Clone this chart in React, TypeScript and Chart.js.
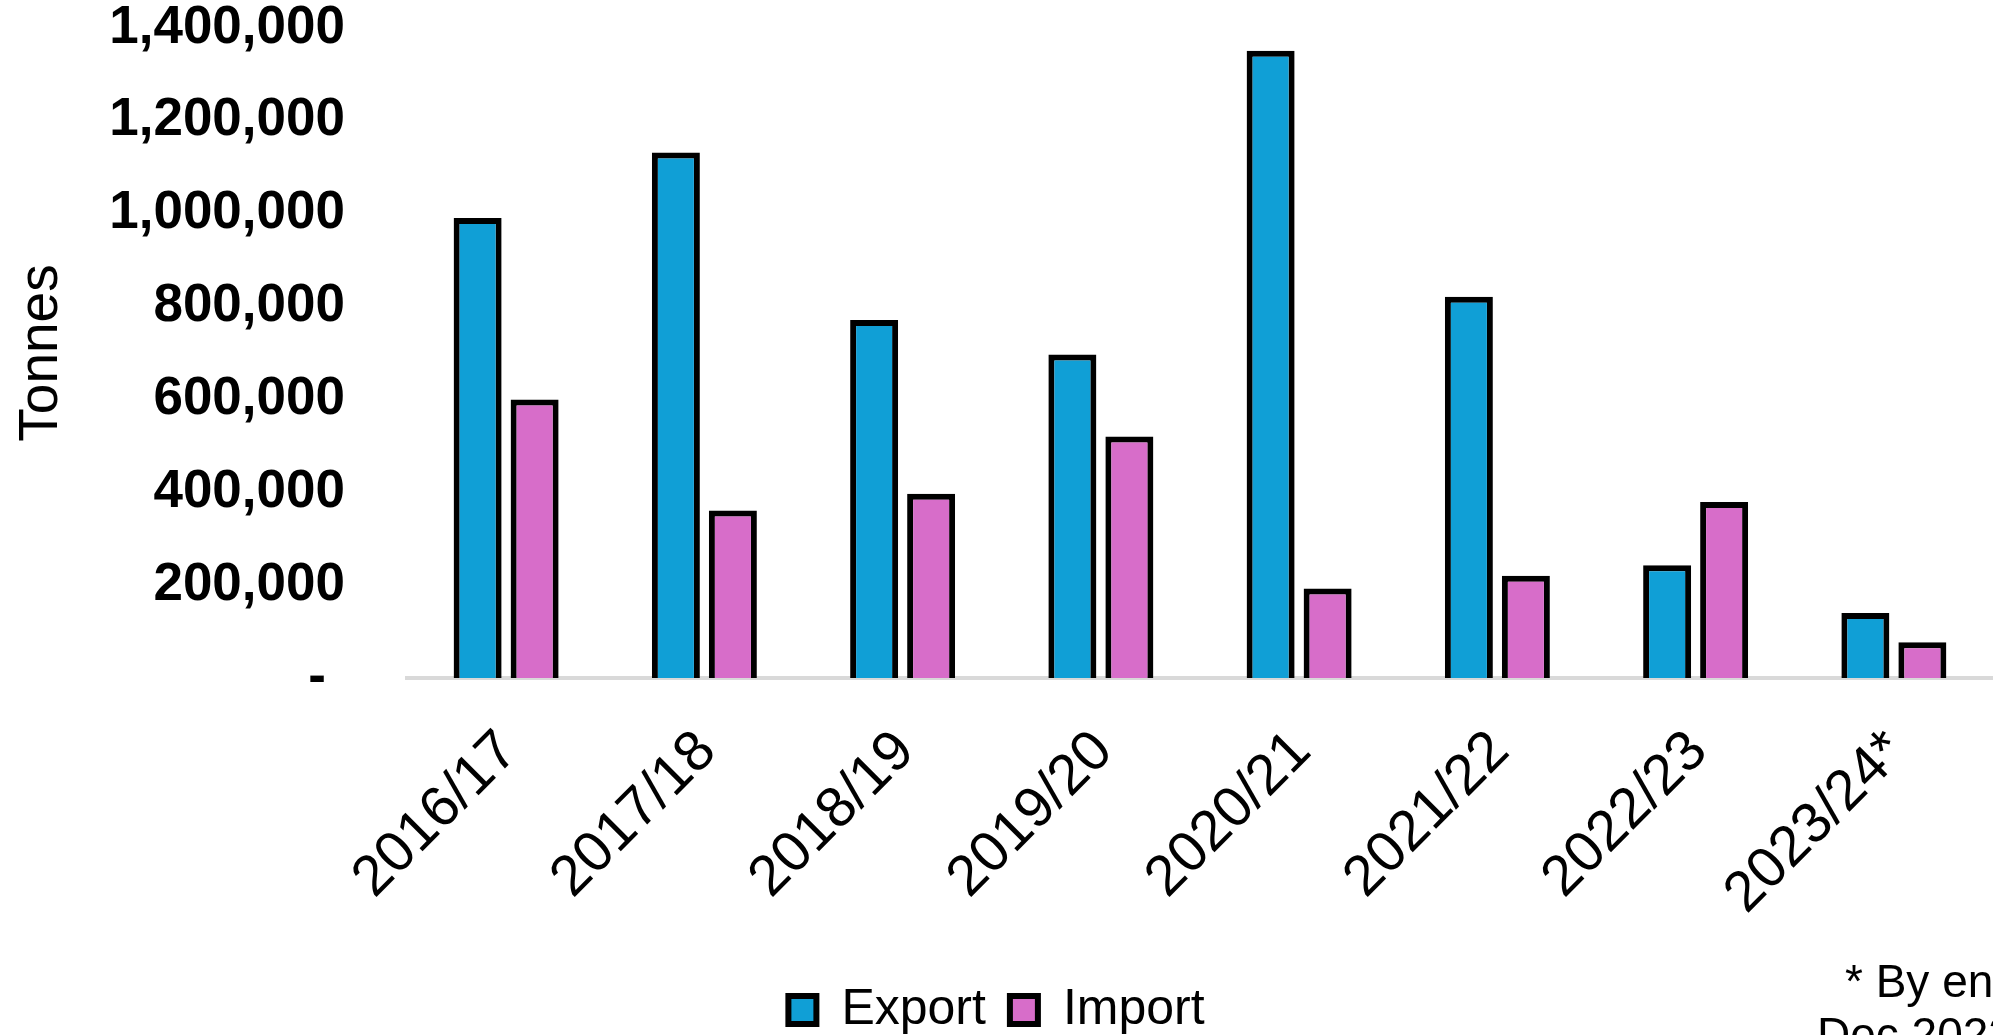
import React, { useEffect, useRef } from "react";
import { Chart, registerables } from "chart.js";

Chart.register(...registerables);

const categories = ["2016/17", "2017/18", "2018/19", "2019/20", "2020/21", "2021/22", "2022/23", "2023/24*"];
const exportValues = [991000, 1132000, 771000, 697000, 1351000, 821000, 243000, 140000];
const importValues = [600000, 361000, 397000, 520000, 193000, 220000, 379000, 77000];
const yTicks = [0, 200000, 400000, 600000, 800000, 1000000, 1200000, 1400000];
const noteLines = ["* By end", "Dec 2023"];

const W = 1993;
const H = 1035;
const CANVAS_H = 1045;

const notePlugin = {
  id: "note",
  afterDraw(chart: any) {
    const ctx = chart.ctx;
    ctx.save();
    ctx.fillStyle = "#000";
    ctx.font = "46px 'Liberation Sans', Arial, sans-serif";
    ctx.textAlign = "left";
    ctx.textBaseline = "alphabetic";
    ctx.fillText(noteLines[0], 1845, 997);
    ctx.fillText(noteLines[1], 1817, 1050);
    ctx.restore();
  },
};

export default function App() {
  const ref = useRef<HTMLCanvasElement | null>(null);
  useEffect(() => {
    document.body.style.margin = "0";
    const canvas = ref.current!;
    const chart = new Chart(canvas, {
      type: "bar",
      data: {
        labels: categories,
        datasets: [
          {
            label: "Export",
            data: exportValues,
            backgroundColor: "#109FD6",
            borderColor: "#000000",
            borderWidth: 6,
            borderSkipped: "bottom",
            barPercentage: 0.842,
            categoryPercentage: 0.575,
          },
          {
            label: "Import",
            data: importValues,
            backgroundColor: "#D76DC9",
            borderColor: "#000000",
            borderWidth: 6,
            borderSkipped: "bottom",
            barPercentage: 0.842,
            categoryPercentage: 0.575,
          },
        ],
      },
      options: {
        responsive: false,
        animation: false,
        devicePixelRatio: 1,
        layout: { autoPadding: false, padding: { top: 28, left: 0, right: 0, bottom: 0 } },
        plugins: {
          tooltip: { enabled: false },
          legend: {
            position: "bottom",
            labels: {
              color: "#000",
              font: { family: "'Liberation Sans', Arial, sans-serif", size: 50 },
              boxWidth: 28,
              boxHeight: 28,
              padding: 24,
            },
          },
        },
        scales: {
          x: {
            afterFit: (scale: any) => {
              scale.height = 283;
              scale.paddingLeft = 0;
              scale.paddingRight = 0;
            },
            grid: { display: false, drawTicks: false },
            border: { display: true, color: "#D9D9D9", width: 4 },
            ticks: {
              color: "#000",
              font: { family: "'Liberation Sans', Arial, sans-serif", size: 57 },
              minRotation: 45,
              maxRotation: 45,
              padding: 40,
              labelOffset: 3,
              autoSkip: false,
            },
          },
          y: {
            min: 0,
            max: 1400000,
            afterFit: (scale: any) => {
              scale.width = 407;
              scale.paddingTop = 0;
              scale.paddingBottom = 0;
            },
            afterBuildTicks: (scale: any) => {
              scale.ticks = yTicks.map((v) => ({ value: v }));
            },
            grid: { display: false, drawTicks: false },
            border: { display: false },
            title: {
              display: true,
              text: "Tonnes",
              color: "#000",
              font: { family: "'Liberation Sans', Arial, sans-serif", size: 55 },
              padding: { top: 9, bottom: 0 },
            },
            ticks: {
              color: "#000",
              font: { family: "'Liberation Sans', Arial, sans-serif", size: 53, weight: "bold" },
              padding: 62,
              callback: (v: any) => (Number(v) === 0 ? "- \u200A" : Number(v).toLocaleString("en-US")),
            },
          },
        },
      },
      plugins: [notePlugin],
    });
    return () => chart.destroy();
  }, []);
  return (
    <div style={{ position: "absolute", left: 0, top: 0, width: W, height: H, overflow: "hidden", background: "#fff" }}>
      <canvas ref={ref} width={W} height={CANVAS_H} style={{ width: W, height: CANVAS_H, display: "block" }} />
    </div>
  );
}
